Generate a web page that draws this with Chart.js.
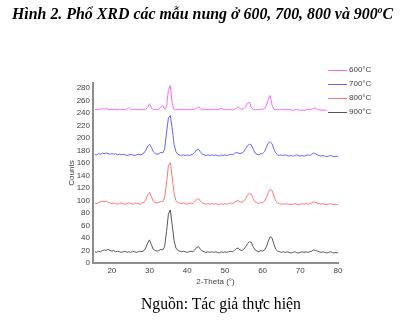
<!DOCTYPE html>
<html>
<head>
<meta charset="utf-8">
<script src="https://cdn.jsdelivr.net/npm/chart.js@4.4.0/dist/chart.umd.min.js"></script>
<style>
  html, body { margin: 0; padding: 0; background: #fff; }
  #wrap { position: relative; width: 411px; height: 330px; overflow: hidden; }
  #chart { position: absolute; left: 0; top: 0; }
  .cap { position: absolute; font-family: "Liberation Serif", "Times New Roman", serif; color: #000; white-space: nowrap; }
  #title { left: 12px; top: 5px; font-size: 15.9px; font-weight: bold; font-style: italic; }
  #title sup { font-size: 9.5px; }
  #source { left: 141px; top: 295px; font-size: 15.7px; }
</style>
</head>
<body>
<div id="wrap">
  <canvas id="chart" width="411" height="330"></canvas>
  <div id="title" class="cap">Hình 2. Phổ XRD các mẫu nung ở 600, 700, 800 và 900<sup>o</sup>C</div>
  <div id="source" class="cap">Nguồn: Tác giả thực hiện</div>
</div>
<script>
// 2-theta positions (degrees), 10 per row
const theta = [
  15.5, 16, 16.5, 17, 17.5, 18, 18.5, 19, 19.5, 20,
  20.5, 21, 21.5, 22, 22.5, 23, 23.5, 24, 24.5, 25,
  25.5, 26, 26.5, 27, 27.5, 28, 28.5, 29, 29.5, 30,
  30.5, 31, 31.5, 32, 32.5, 33, 33.5, 34, 34.5, 35,
  35.5, 36, 36.5, 37, 37.5, 38, 38.5, 39, 39.5, 40,
  40.5, 41, 41.5, 42, 42.5, 43, 43.5, 44, 44.5, 45,
  45.5, 46, 46.5, 47, 47.5, 48, 48.5, 49, 49.5, 50,
  50.5, 51, 51.5, 52, 52.5, 53, 53.5, 54, 54.5, 55,
  55.5, 56, 56.5, 57, 57.5, 58, 58.5, 59, 59.5, 60,
  60.5, 61, 61.5, 62, 62.5, 63, 63.5, 64, 64.5, 65,
  65.5, 66, 66.5, 67, 67.5, 68, 68.5, 69, 69.5, 70,
  70.5, 71, 71.5, 72, 72.5, 73, 73.5, 74, 74.5, 75,
  75.5, 76, 76.5, 77, 77.5, 78, 78.5, 79, 79.5, 80
];

const counts600 = [
  246, 245, 246, 246, 247, 246, 247, 246, 245, 246,
  245, 246, 245, 246, 245, 246, 245, 246, 249, 246,
  245, 246, 245, 246, 245, 246, 245, 246, 249, 255,
  248, 245, 246, 245, 246, 250, 252, 246, 250, 276,
  284, 256, 246, 245, 246, 245, 246, 245, 246, 245,
  246, 245, 246, 246, 248, 250, 247, 245, 246, 245,
  246, 245, 246, 245, 246, 245, 246, 248, 246, 245,
  246, 245, 246, 245, 246, 247, 250, 247, 246, 247,
  250, 256, 257, 249, 246, 245, 246, 245, 246, 246,
  247, 252, 262, 268, 253, 246, 245, 246, 245, 246,
  245, 246, 245, 246, 245, 244, 245, 246, 245, 244,
  245, 244, 245, 246, 245, 246, 247, 248, 246, 245,
  245, 244, 245, 244, null, null, null, null, null, null
];

const counts700 = [
  174, 173, 175, 174, 176, 175, 176, 175, 174, 175,
  174, 175, 173, 174, 173, 174, 173, 172, 173, 174,
  173, 172, 173, 174, 173, 174, 176, 180, 187, 190,
  185, 178, 175, 174, 175, 177, 176, 182, 208, 232,
  236, 216, 190, 178, 174, 173, 172, 173, 172, 173,
  172, 173, 174, 177, 181, 182, 178, 174, 173, 172,
  173, 172, 173, 172, 173, 172, 171, 173, 172, 173,
  172, 173, 174, 173, 175, 177, 176, 175, 176, 178,
  183, 188, 190, 189, 182, 176, 174, 173, 175, 175,
  178, 185, 192, 194, 191, 182, 176, 173, 172, 173,
  172, 173, 172, 171, 172, 171, 172, 173, 172, 171,
  172, 171, 172, 173, 172, 174, 176, 175, 173, 172,
  171, 172, 171, 170, 171, 172, 171, 170, 171, 170
];

const counts800 = [
  96, 95, 97, 98, 99, 98, 99, 97, 96, 95,
  96, 95, 94, 95, 96, 95, 94, 95, 96, 95,
  94, 95, 96, 95, 94, 96, 97, 101, 109, 113,
  106, 99, 97, 96, 97, 99, 98, 104, 128, 155,
  161, 138, 112, 100, 97, 96, 95, 96, 95, 94,
  95, 96, 95, 98, 102, 103, 99, 96, 95, 94,
  95, 94, 95, 94, 95, 94, 93, 95, 94, 95,
  94, 95, 96, 95, 97, 99, 100, 98, 97, 99,
  103, 109, 111, 110, 103, 98, 96, 95, 97, 96,
  99, 105, 113, 118, 116, 107, 99, 96, 95, 94,
  95, 94, 95, 94, 93, 94, 95, 94, 93, 94,
  95, 94, 95, 94, 95, 96, 98, 97, 96, 95,
  94, 95, 94, 93, 94, 95, 94, 93, 94, 93
];

const counts900 = [
  18, 17, 19, 18, 20, 21, 20, 22, 20, 19,
  20, 18, 19, 18, 17, 18, 19, 17, 18, 17,
  19, 18, 17, 18, 19, 18, 20, 24, 32, 37,
  29, 22, 20, 19, 20, 22, 21, 26, 50, 78,
  85, 62, 36, 24, 20, 19, 18, 19, 18, 17,
  18, 19, 18, 21, 25, 26, 22, 19, 18, 17,
  18, 17, 18, 17, 18, 17, 16, 18, 17, 18,
  17, 18, 19, 18, 20, 23, 24, 21, 20, 22,
  26, 31, 34, 33, 26, 21, 19, 18, 20, 19,
  21, 26, 35, 42, 40, 30, 22, 19, 18, 17,
  18, 17, 18, 17, 16, 17, 18, 17, 16, 17,
  18, 17, 18, 17, 18, 19, 21, 20, 19, 18,
  17, 18, 17, 16, 17, 18, 17, 16, 17, 16
];

const seriesNames = ['600\u00B0C', '700\u00B0C', '800\u00B0C', '900\u00B0C'];
const seriesColors = ['#ff66ff', '#6464ff', '#ff7676', '#585858'];
const xTicks = [20, 30, 40, 50, 60, 70, 80];
const yTicks = [0, 20, 40, 60, 80, 100, 120, 140, 160, 180, 200, 220, 240, 260, 280];

const allCounts = [counts600, counts700, counts800, counts900];

// little legend drawn over the top right corner, like the original figure
const cornerLegend = {
  id: 'cornerLegend',
  afterDraw(chart) {
    const ctx = chart.ctx;
    ctx.save();
    ctx.font = '8px "Liberation Sans", Arial, sans-serif';
    ctx.textBaseline = 'middle';
    chart.data.datasets.forEach((ds, i) => {
      const y = 70 + i * 14;
      ctx.strokeStyle = ds.borderColor;
      ctx.lineWidth = 1;
      ctx.beginPath();
      ctx.moveTo(328, y + 0.5);
      ctx.lineTo(347, y + 0.5);
      ctx.stroke();
      ctx.fillStyle = '#404040';
      ctx.fillText(ds.label, 349, y);
    });
    ctx.restore();
  }
};

const tickFont = { family: '"Liberation Sans", Arial, sans-serif', size: 8 };

new Chart(document.getElementById('chart'), {
  type: 'line',
  data: {
    datasets: allCounts.map((arr, i) => ({
      label: seriesNames[i],
      data: theta.map((t, k) => ({ x: t, y: arr[k] })),
      borderColor: seriesColors[i],
      borderWidth: 1,
      pointRadius: 0,
      tension: 0,
      fill: false
    }))
  },
  options: {
    responsive: false,
    animation: false,
    layout: { padding: { left: 67, right: 73, top: 83, bottom: 43 } },
    plugins: {
      legend: { display: false },
      tooltip: { enabled: false }
    },
    scales: {
      x: {
        type: 'linear',
        min: 15,
        max: 80,
        afterBuildTicks: s => { s.ticks = xTicks.map(v => ({ value: v })); },
        afterFit: s => { s.height = 24; },
        grid: { display: false, drawTicks: false },
        border: { display: true, color: '#8c8c8c', width: 2 },
        ticks: { font: tickFont, color: '#404040', padding: 3, maxRotation: 0 },
        title: { display: true, text: '2-Theta (\u00B0)', font: tickFont, color: '#404040', padding: 0 }
      },
      y: {
        min: 0,
        max: 288,
        afterBuildTicks: s => { s.ticks = yTicks.map(v => ({ value: v })); },
        afterFit: s => { s.width = 26; },
        grid: { display: false, drawTicks: false },
        border: { display: true, color: '#8c8c8c', width: 2 },
        ticks: { font: tickFont, color: '#404040', padding: 3 },
        title: { display: true, text: 'Counts', font: tickFont, color: '#404040', padding: 0 }
      }
    }
  },
  plugins: [cornerLegend]
});
</script>
</body>
</html>
